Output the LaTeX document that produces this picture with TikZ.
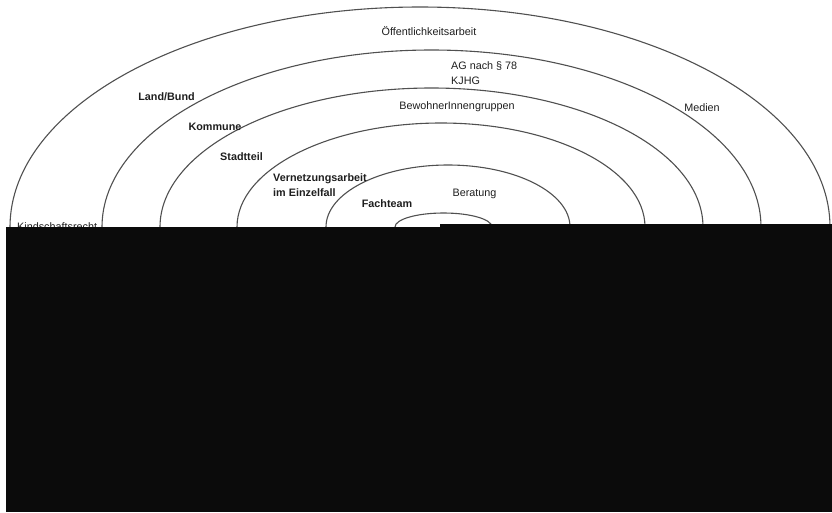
\documentclass[tikz,border=0pt]{standalone}
\usepackage{fontspec}
\setmainfont{Liberation Sans}
\definecolor{ringgray}{HTML}{505050}
\definecolor{ink}{HTML}{1E1E1E}
\definecolor{cover}{HTML}{0B0B0B}

\begin{document}
\begin{tikzpicture}[x=1pt, y=-1pt]
  \tikzset{ring/.style={draw=ringgray, line width=1.1pt},
           lbl/.style={font=\fontsize{10.8}{15}\selectfont, text=ink, inner sep=0pt, anchor=base},
           blbl/.style={lbl, font=\fontsize{10.8}{15}\selectfont\bfseries}}
  \useasboundingbox (0,0) rectangle (832,512);
  % rings, outside to inside
  \draw[ring] (420,227)   ellipse [x radius=410,   y radius=220];
  \draw[ring] (431.5,227) ellipse [x radius=329.5, y radius=177];
  \draw[ring] (431.5,227) ellipse [x radius=271.5, y radius=139];
  \draw[ring] (441,227)   ellipse [x radius=204,   y radius=104];
  \draw[ring] (448,227)   ellipse [x radius=122,   y radius=62];
  \draw[ring] (443.5,227) ellipse [x radius=48.5,  y radius=14];
  % labels
  \node[lbl]  (oeff)     at (429,35)   {Öffentlichkeitsarbeit};
  \node[lbl, anchor=north west, align=left] (ag) at (451,61) {AG nach § 78\\KJHG};
  \node[lbl]  (bewohner) at (457,109)  {BewohnerInnengruppen};
  \node[lbl]  (medien)   at (702,111)  {Medien};
  \node[blbl] (land)     at (166.5,100) {Land/Bund};
  \node[blbl] (kommune)  at (215,130)  {Kommune};
  \node[blbl] (stadtteil) at (241.5,160) {Stadtteil};
  \node[blbl, anchor=north west, align=left] (vernetz) at (273,173) {Vernetzungsarbeit\\im Einzelfall};
  \node[blbl] (fachteam) at (387,207)  {Fachteam};
  \node[lbl]  (beratung) at (474.5,196) {Beratung};
  \node[lbl, anchor=base west] (kind) at (17,230) {Kindschaftsrecht};
  % covered lower part
  \fill[cover] (6,227) rectangle (440,512);
  \fill[cover] (440,224) rectangle (832,512);
\end{tikzpicture}
\end{document}
